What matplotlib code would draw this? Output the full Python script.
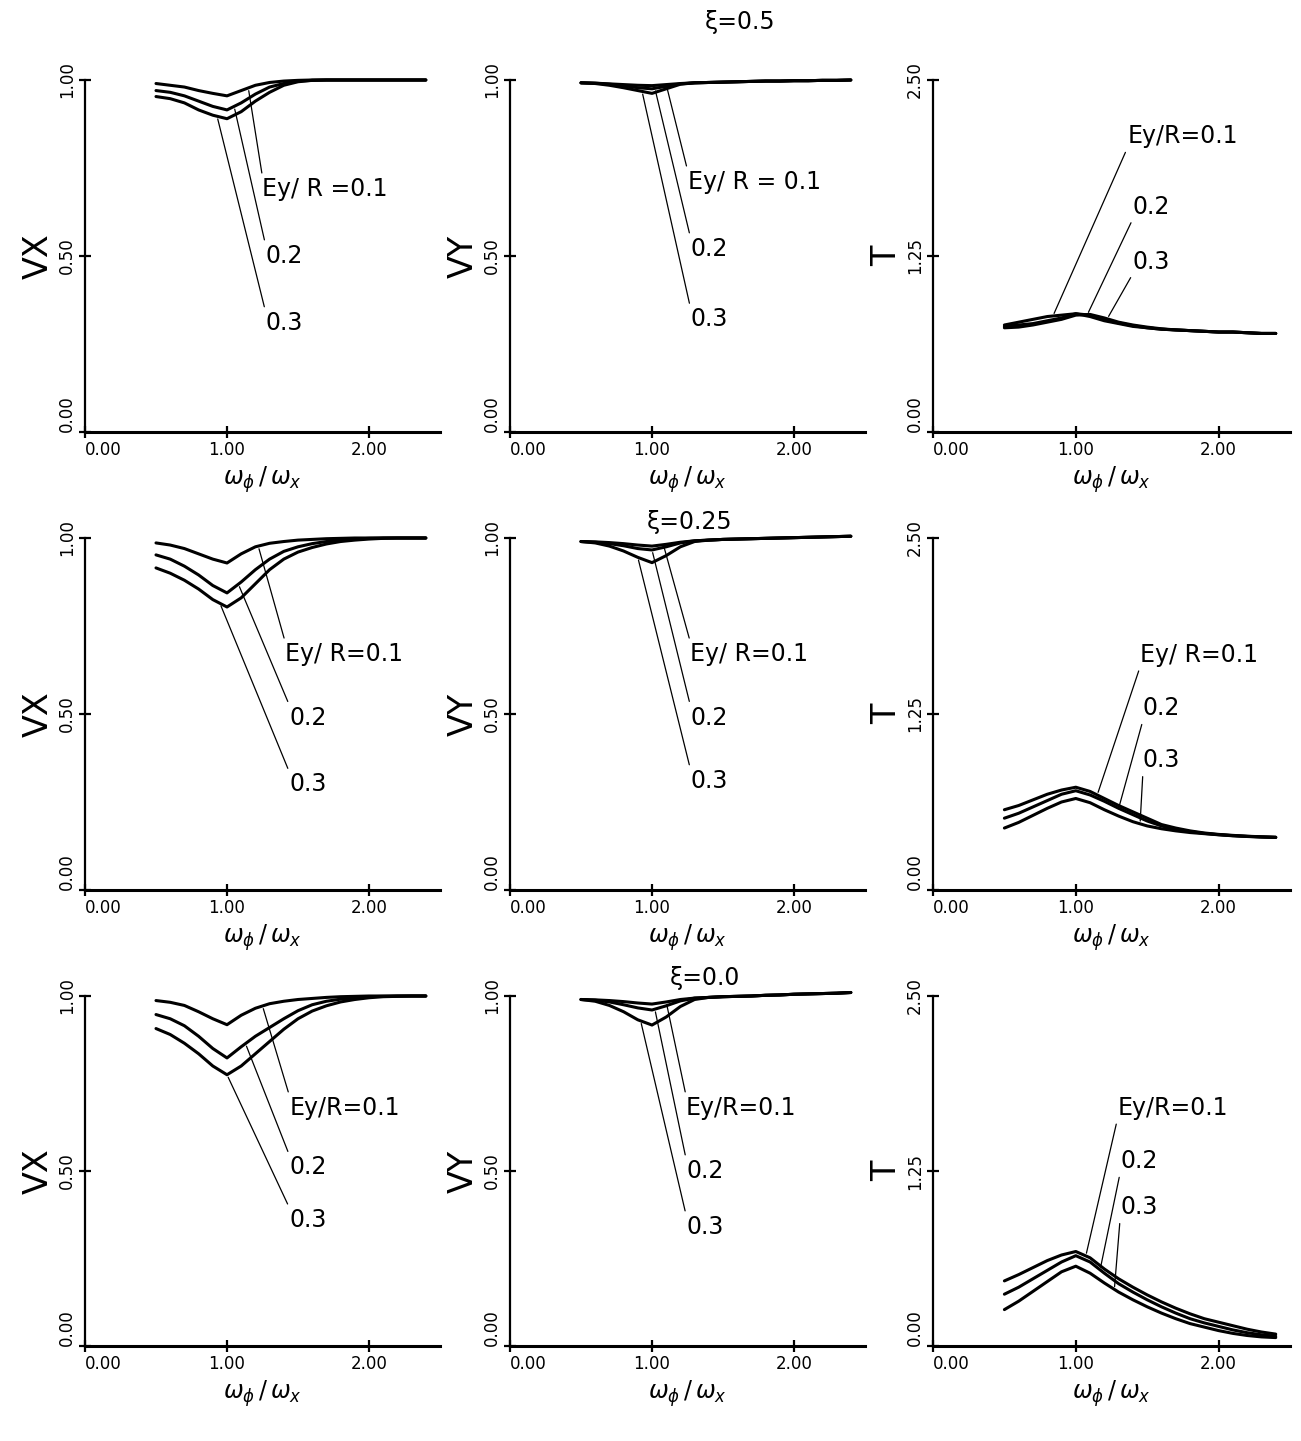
import numpy as np
import matplotlib
matplotlib.use("Agg")
import matplotlib.pyplot as plt

# frequency ratio w_phi / w_x
X = [0.5, 0.6, 0.7, 0.8, 0.9, 1.0, 1.1, 1.2, 1.3, 1.4,
     1.5, 1.6, 1.7, 1.8, 1.9, 2.0, 2.1, 2.2, 2.3, 2.4]

ecc_values = ["0.1", "0.2", "0.3"]

# xi = 0.5
vx_05 = [
    [0.990, 0.985, 0.980, 0.970, 0.962, 0.955, 0.970, 0.985, 0.993, 0.997, 0.999, 1.0, 1.0, 1.0, 1.0, 1.0, 1.0, 1.0, 1.0, 1.0],
    [0.970, 0.965, 0.955, 0.940, 0.925, 0.915, 0.935, 0.960, 0.980, 0.990, 0.997, 0.999, 1.0, 1.0, 1.0, 1.0, 1.0, 1.0, 1.0, 1.0],
    [0.953, 0.947, 0.935, 0.915, 0.900, 0.890, 0.910, 0.940, 0.965, 0.985, 0.995, 0.999, 1.0, 1.0, 1.0, 1.0, 1.0, 1.0, 1.0, 1.0],
]
vy_05 = [
    [0.992, 0.991, 0.989, 0.987, 0.985, 0.984, 0.987, 0.990, 0.992, 0.993, 0.994, 0.995, 0.996, 0.997, 0.997, 0.998, 0.998, 0.999, 0.999, 1.0],
    [0.992, 0.991, 0.988, 0.984, 0.978, 0.975, 0.982, 0.989, 0.992, 0.993, 0.994, 0.995, 0.996, 0.997, 0.997, 0.998, 0.998, 0.999, 0.999, 1.0],
    [0.992, 0.990, 0.985, 0.978, 0.970, 0.962, 0.975, 0.988, 0.992, 0.993, 0.994, 0.995, 0.996, 0.997, 0.997, 0.998, 0.998, 0.999, 0.999, 1.0],
]
t_05 = [
    [0.76, 0.78, 0.80, 0.82, 0.83, 0.84, 0.82, 0.79, 0.77, 0.75, 0.74, 0.73, 0.725, 0.72, 0.715, 0.71, 0.71, 0.705, 0.70, 0.70],
    [0.75, 0.76, 0.77, 0.79, 0.81, 0.84, 0.83, 0.80, 0.775, 0.755, 0.74, 0.73, 0.725, 0.72, 0.715, 0.71, 0.71, 0.705, 0.70, 0.70],
    [0.74, 0.745, 0.76, 0.78, 0.80, 0.83, 0.835, 0.81, 0.78, 0.76, 0.745, 0.733, 0.725, 0.72, 0.715, 0.71, 0.71, 0.705, 0.70, 0.70],
]

# xi = 0.25
vx_025 = [
    [0.986, 0.980, 0.970, 0.955, 0.940, 0.929, 0.955, 0.975, 0.985, 0.990, 0.994, 0.996, 0.998, 0.999, 1.0, 1.0, 1.0, 1.0, 1.0, 1.0],
    [0.952, 0.940, 0.920, 0.895, 0.865, 0.844, 0.875, 0.910, 0.940, 0.962, 0.975, 0.984, 0.990, 0.994, 0.997, 0.999, 1.0, 1.0, 1.0, 1.0],
    [0.915, 0.900, 0.880, 0.855, 0.825, 0.804, 0.830, 0.870, 0.910, 0.940, 0.960, 0.973, 0.983, 0.990, 0.994, 0.997, 0.999, 1.0, 1.0, 1.0],
]
vy_025 = [
    [0.990, 0.989, 0.987, 0.984, 0.980, 0.977, 0.982, 0.988, 0.992, 0.994, 0.996, 0.997, 0.998, 0.999, 1.0, 1.001, 1.002, 1.003, 1.004, 1.005],
    [0.990, 0.988, 0.984, 0.978, 0.970, 0.966, 0.975, 0.986, 0.992, 0.994, 0.996, 0.997, 0.998, 0.999, 1.0, 1.001, 1.002, 1.003, 1.004, 1.005],
    [0.990, 0.986, 0.977, 0.963, 0.945, 0.930, 0.950, 0.975, 0.990, 0.994, 0.996, 0.997, 0.998, 0.999, 1.0, 1.001, 1.002, 1.003, 1.004, 1.005],
]
t_025 = [
    [0.57, 0.60, 0.64, 0.68, 0.71, 0.73, 0.70, 0.65, 0.60, 0.555, 0.51, 0.465, 0.44, 0.42, 0.405, 0.395, 0.388, 0.382, 0.378, 0.375],
    [0.51, 0.545, 0.59, 0.635, 0.68, 0.705, 0.675, 0.63, 0.58, 0.535, 0.49, 0.455, 0.43, 0.415, 0.402, 0.393, 0.386, 0.381, 0.377, 0.374],
    [0.44, 0.48, 0.53, 0.58, 0.625, 0.65, 0.62, 0.57, 0.525, 0.485, 0.455, 0.435, 0.42, 0.408, 0.40, 0.392, 0.385, 0.38, 0.376, 0.373],
]

# xi = 0.0
vx_00 = [
    [0.987, 0.982, 0.973, 0.955, 0.935, 0.918, 0.945, 0.965, 0.978, 0.985, 0.990, 0.993, 0.996, 0.998, 0.999, 1.0, 1.0, 1.0, 1.0, 1.0],
    [0.947, 0.935, 0.915, 0.885, 0.850, 0.823, 0.855, 0.885, 0.910, 0.935, 0.958, 0.975, 0.985, 0.991, 0.995, 0.998, 0.999, 1.0, 1.0, 1.0],
    [0.907, 0.890, 0.865, 0.835, 0.800, 0.775, 0.800, 0.835, 0.870, 0.905, 0.935, 0.957, 0.972, 0.983, 0.990, 0.995, 0.998, 0.999, 1.0, 1.0],
]
vy_00 = [
    [0.990, 0.989, 0.987, 0.984, 0.980, 0.977, 0.983, 0.990, 0.994, 0.996, 0.998, 0.999, 1.0, 1.002, 1.003, 1.005, 1.006, 1.007, 1.008, 1.01],
    [0.990, 0.988, 0.983, 0.975, 0.966, 0.960, 0.972, 0.986, 0.994, 0.996, 0.998, 0.999, 1.0, 1.002, 1.003, 1.005, 1.006, 1.007, 1.008, 1.01],
    [0.990, 0.985, 0.973, 0.955, 0.932, 0.917, 0.940, 0.970, 0.990, 0.996, 0.998, 0.999, 1.0, 1.002, 1.003, 1.005, 1.006, 1.007, 1.008, 1.01],
]
t_00 = [
    [0.465, 0.51, 0.56, 0.61, 0.65, 0.675, 0.63, 0.55, 0.48, 0.42, 0.365, 0.315, 0.27, 0.23, 0.195, 0.17, 0.145, 0.12, 0.10, 0.085],
    [0.37, 0.42, 0.48, 0.54, 0.60, 0.645, 0.60, 0.52, 0.445, 0.385, 0.33, 0.28, 0.235, 0.195, 0.165, 0.14, 0.115, 0.095, 0.08, 0.07],
    [0.26, 0.32, 0.39, 0.46, 0.53, 0.57, 0.52, 0.45, 0.385, 0.33, 0.28, 0.235, 0.195, 0.16, 0.135, 0.11, 0.09, 0.075, 0.065, 0.06],
]

W, H = 1301, 1441
fig = plt.figure(figsize=(W / 100, H / 100), dpi=100)
plt.rcParams['font.family'] = 'DejaVu Sans'


def make_axes(left, top, bottom, right):
    return fig.add_axes([left / W, 1 - bottom / H, (right - left) / W, (bottom - top) / H])


def panel(ax, curves, ylabel, ytop, yticks, ytick_labels, first_label, label_pos, leader_x, rel):
    for c in curves:
        ax.plot(X, c, color='black', lw=2.2, solid_capstyle='round',
                solid_joinstyle='round', clip_on=False)
    ax.set_xlim(0, 2.5)
    ax.set_ylim(0, ytop)
    ax.spines['top'].set_visible(False)
    ax.spines['right'].set_visible(False)
    ax.spines['left'].set_linewidth(1.6)
    ax.spines['bottom'].set_linewidth(2.2)
    ax.set_xticks([0, 1, 2])
    ax.set_xticklabels(["0.00", "1.00", "2.00"], fontsize=12)
    ax.get_xticklabels()[0].set_horizontalalignment('left')
    ax.set_yticks(yticks)
    ax.set_yticklabels(ytick_labels, fontsize=12, rotation=90, va='center')
    ax.get_yticklabels()[0].set_verticalalignment('bottom')
    ax.tick_params(direction='inout', length=9, width=1.6, pad=2)
    ax.set_ylabel(ylabel, fontsize=24, labelpad=2)
    ax.set_xlabel(r"$\omega_{\phi}\,/\,\omega_{x}$", fontsize=17, labelpad=4)
    labels = [first_label] + ecc_values[1:]
    for lab, (tx, ty), xc, c in zip(labels, label_pos, leader_x, curves):
        yc = np.interp(xc, X, c)
        ax.annotate(lab, xy=(xc, yc), xytext=(tx, ty), fontsize=17, ha='left', va='center',
                    arrowprops=dict(arrowstyle='-', lw=0.9, color='black', relpos=rel,
                                    shrinkA=1, shrinkB=2))


rows = [(80, 432), (538, 890), (996, 1346)]
cols = [(85, 440), (510, 865), (933, 1290)]

data = [(vx_05, vy_05, t_05), (vx_025, vy_025, t_025), (vx_00, vy_00, t_00)]

vx_first = ["Ey/ R =0.1", "Ey/ R=0.1", "Ey/R=0.1"]
vy_first = ["Ey/ R = 0.1", "Ey/ R=0.1", "Ey/R=0.1"]
t_first = ["Ey/R=0.1", "Ey/ R=0.1", "Ey/R=0.1"]

vx_label_pos = [[(1.25, 0.69), (1.27, 0.50), (1.27, 0.31)],
                [(1.41, 0.67), (1.44, 0.49), (1.44, 0.30)],
                [(1.44, 0.68), (1.44, 0.51), (1.44, 0.36)]]
vx_leader = [[1.15, 1.05, 0.93], [1.22, 1.08, 0.95], [1.25, 1.13, 1.0]]
vy_label_pos = [[(1.25, 0.71), (1.27, 0.52), (1.27, 0.32)],
                [(1.27, 0.67), (1.27, 0.49), (1.27, 0.31)],
                [(1.24, 0.68), (1.24, 0.50), (1.24, 0.34)]]
vy_leader = [[1.10, 1.02, 0.93], [1.08, 1.0, 0.9], [1.1, 1.02, 0.92]]
t_label_pos = [[(1.36, 2.10), (1.40, 1.60), (1.40, 1.21)],
               [(1.45, 1.67), (1.47, 1.29), (1.47, 0.92)],
               [(1.29, 1.70), (1.31, 1.32), (1.31, 0.99)]]
t_leader = [[0.84, 1.08, 1.22], [1.15, 1.30, 1.45], [1.07, 1.17, 1.27]]

for r, (top, bot) in enumerate(rows):
    vx, vy, t = data[r]
    ax = make_axes(cols[0][0], top, bot, cols[0][1])
    panel(ax, vx, "VX", 1.0, [0, 0.5, 1.0], ["0.00", "0.50", "1.00"],
          vx_first[r], vx_label_pos[r], vx_leader[r], (0.0, 1.0))
    ax = make_axes(cols[1][0], top, bot, cols[1][1])
    panel(ax, vy, "VY", 1.0, [0, 0.5, 1.0], ["0.00", "0.50", "1.00"],
          vy_first[r], vy_label_pos[r], vy_leader[r], (0.0, 1.0))
    ax = make_axes(cols[2][0], top, bot, cols[2][1])
    panel(ax, t, "T", 2.5, [0, 1.25, 2.5], ["0.00", "1.25", "2.50"],
          t_first[r], t_label_pos[r], t_leader[r], (0.0, 0.0))

for txt, (px, py) in [("ξ=0.5", (740, 22)), ("ξ=0.25", (690, 522)), ("ξ=0.0", (705, 978))]:
    fig.text(px / W, 1 - py / H, txt, fontsize=17, ha='center', va='center')

fig.savefig("out.png", dpi=100, facecolor='white')
